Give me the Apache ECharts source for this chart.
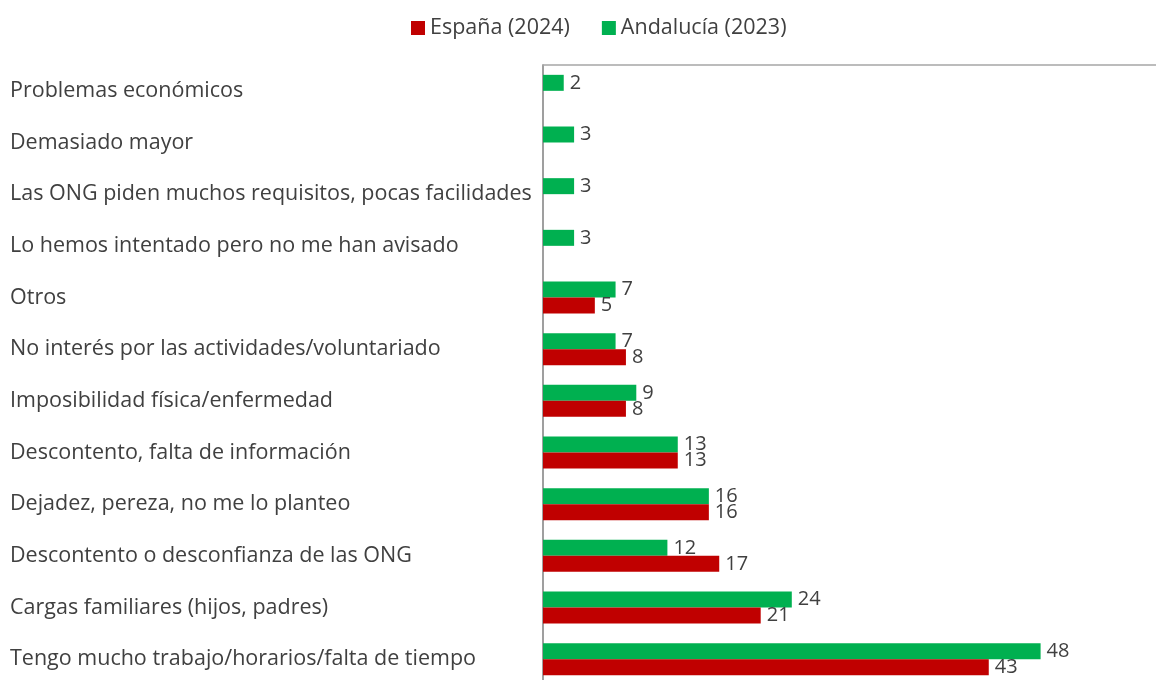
<!DOCTYPE html>
<head>
    <meta charset="utf-8">
    <title>Motivos</title>
    <style>
        body { margin: 0; background: #fff; }
        #chart { width: 1156px; height: 680px; }
    </style>
</head>
<body>
    <div id="chart"></div>
    <script src="https://cdn.jsdelivr.net/npm/echarts@6/dist/echarts.min.js"></script>
    <script type="text/javascript">

    var categories = [
        'Problemas económicos',
        'Demasiado mayor',
        'Las ONG piden muchos requisitos, pocas facilidades',
        'Lo hemos intentado pero no me han avisado',
        'Otros',
        'No interés por las actividades/voluntariado',
        'Imposibilidad física/enfermedad',
        'Descontento, falta de información',
        'Dejadez, pereza, no me lo planteo',
        'Descontento o desconfianza de las ONG',
        'Cargas familiares (hijos, padres)',
        'Tengo mucho trabajo/horarios/falta de tiempo'
    ];
    var espana2024 = [null, null, null, null, 5, 8, 8, 13, 16, 17, 21, 43];
    var andalucia2023 = [2, 3, 3, 3, 7, 7, 9, 13, 16, 12, 24, 48];

    var myChart = echarts.init(document.getElementById('chart'));

    var labelStyle = {
        show: true,
        position: 'right',
        distance: 6,
        color: '#404040',
        fontFamily: 'Open Sans',
        fontSize: 20
    };

    myChart.setOption({
        animation: false,
        legend: {
            top: 12,
            left: 406,
            itemWidth: 14,
            itemHeight: 14,
            itemGap: 32,
            icon: 'rect',
            textStyle: { color: '#404040', fontFamily: 'Open Sans', fontSize: 21.5 },
            data: ['España (2024)', 'Andalucía (2023)']
        },
        grid: {
            left: 543,
            top: 65,
            width: 622,
            bottom: -5,
            outerBoundsMode: 'none'
        },
        xAxis: {
            type: 'value',
            position: 'top',
            min: 0,
            max: 60,
            axisLine: { show: true, lineStyle: { color: '#a6a6a6', width: 1.5 } },
            axisTick: { show: false },
            axisLabel: { show: false },
            splitLine: { show: false }
        },
        yAxis: {
            type: 'category',
            inverse: true,
            data: categories,
            axisLine: { show: true, lineStyle: { color: '#7f7f7f', width: 1.5 } },
            axisTick: { show: false },
            axisLabel: {
                align: 'left',
                margin: 533,
                padding: [5, 0, 0, 0],
                color: '#404040',
                fontFamily: 'Open Sans',
                fontSize: 21.5
            }
        },
        series: [
            {
                name: 'Andalucía (2023)',
                type: 'bar',
                data: andalucia2023,
                barWidth: 16,
                barGap: '0%',
                itemStyle: { color: '#00b050' },
                label: labelStyle
            },
            {
                name: 'España (2024)',
                type: 'bar',
                data: espana2024,
                barWidth: 16,
                itemStyle: { color: '#c00000' },
                label: labelStyle
            }
        ]
    });

    </script>
</body>
